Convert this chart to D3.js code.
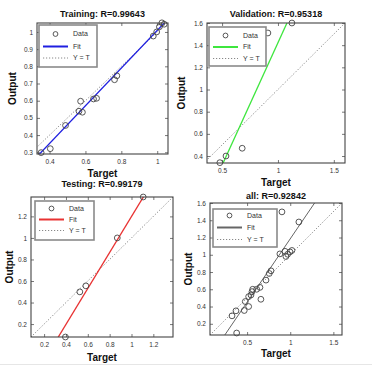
<!DOCTYPE html>
<html><head><meta charset="utf-8">
<script src="https://cdn.jsdelivr.net/npm/d3@7"></script>
<style>body{margin:0;background:#fff}svg{display:block;font-family:"Liberation Sans",Arial,sans-serif}</style>
</head><body><svg id="c" width="372" height="368"></svg>
<script>
// ---- data ----
const panelTitles = ["Training: R=0.99643", "Validation: R=0.95318", "Testing: R=0.99179", "all: R=0.92842"];
const legendLabels = ["Data", "Fit", "Y = T"];
const xLabel = "Target";
const yLabel = "Output";

const trainTarget = [0.353, 0.404, 0.489, 0.573, 0.564, 0.583, 0.645, 0.662, 0.762, 0.775, 0.978, 0.997, 1.012, 1.026, 1.039];
const trainOutput = [0.298, 0.321, 0.456, 0.597, 0.539, 0.533, 0.610, 0.614, 0.722, 0.745, 0.976, 1.000, 1.030, 1.053, 1.045];

const valTarget = [0.48, 0.535, 0.68, 0.91, 1.125];
const valOutput = [0.34, 0.40, 0.47, 1.51, 1.60];

const testTarget = [0.395, 0.527, 0.582, 0.87, 1.107];
const testOutput = [0.08, 0.499, 0.555, 1.00, 1.38];

const allTarget = [0.904, 1.10, 0.88, 0.94, 0.97, 0.997, 1.02, 0.95, 0.757, 0.777, 0.719, 0.649, 0.611, 0.557, 0.565, 0.545, 0.518, 0.66, 0.479, 0.518, 0.467, 0.371, 0.325, 0.379];
const allOutput = [1.497, 1.38, 1.01, 1.04, 1.006, 1.033, 1.05, 0.98, 0.783, 0.814, 0.706, 0.622, 0.60, 0.573, 0.60, 0.534, 0.515, 0.484, 0.458, 0.40, 0.354, 0.35, 0.292, 0.093];

// fit lines: output = slope * target + intercept
const fitSlope = [1.096, 2.21, 1.67, 1.47];
const fitIntercept = [-0.087, -0.788, -0.471, -0.285];

const xDomains = [[0.33, 1.06], [0.365, 1.60], [0.08, 1.38], [0.07, 1.60]];
const yDomains = [[0.29, 1.052], [0.337, 1.60], [0.08, 1.38], [0.07, 1.60]];
const xTickVals = [[0.4, 0.6, 0.8, 1], [0.5, 1, 1.5], [0.2, 0.4, 0.6, 0.8, 1, 1.2], [0.5, 1, 1.5]];
const yTickVals = [[0.3, 0.4, 0.5, 0.6, 0.7, 0.8, 0.9, 1], [0.4, 0.6, 0.8, 1, 1.2, 1.4, 1.6], [0.2, 0.4, 0.6, 0.8, 1, 1.2], [0.2, 0.4, 0.6, 0.8, 1, 1.2, 1.4, 1.6]];

// ---- layout / style ----
const boxes = [
  {l: 37, t: 23, r: 168, b: 154},
  {l: 207, t: 23, r: 345, b: 163},
  {l: 31, t: 197, r: 173, b: 337},
  {l: 210, t: 203, r: 342, b: 335}
];
const titleY = [16.5, 16.5, 186.5, 198.5];
const xLabelY = [176.5, 185.5, 360.5, 356.5];
const yLabelX = [12, 181, 9, 188];
const legendBoxes = [
  {l: 39, t: 25, r: 97, b: 67, rows: [34, 46.5, 58]},
  {l: 209, t: 27, r: 266, b: 66, rows: [35.5, 47, 58.5]},
  {l: 35, t: 201, r: 94, b: 240, rows: [208.5, 219.5, 230.5]},
  {l: 213, t: 209, r: 277, b: 247, rows: [215.5, 227.5, 239.5]}
];
const fitColors = ["#1f1fe0", "#3ee63e", "#e83232", "#666"];

const targets = [trainTarget, valTarget, testTarget, allTarget];
const outputs = [trainOutput, valOutput, testOutput, allOutput];

const svg = d3.select("#c");
svg.append("rect").attr("x", 0).attr("y", 0).attr("width", 372).attr("height", 368).attr("fill", "#fff");
svg.append("line").attr("x1", 0).attr("x2", 372).attr("y1", 364.5).attr("y2", 364.5).attr("stroke", "#e6e6e6");

const fmt = v => String(v);

for (let i = 0; i < 4; i++) {
  const bx = boxes[i];
  const x = d3.scaleLinear().domain(xDomains[i]).range([bx.l, bx.r]);
  const y = d3.scaleLinear().domain(yDomains[i]).range([bx.b, bx.t]);
  const g = svg.append("g");
  const clipId = "clip" + i;
  g.append("clipPath").attr("id", clipId).append("rect")
    .attr("x", bx.l).attr("y", bx.t).attr("width", bx.r - bx.l).attr("height", bx.b - bx.t);

  // axes (ticks inward on all sides)
  const axB = g.append("g").attr("transform", `translate(0,${bx.b})`)
    .call(d3.axisBottom(x).tickValues(xTickVals[i]).tickFormat(fmt).tickSizeInner(-3).tickSizeOuter(0).tickPadding(5));
  const axT = g.append("g").attr("transform", `translate(0,${bx.t})`)
    .call(d3.axisTop(x).tickValues(xTickVals[i]).tickFormat("").tickSizeInner(-3).tickSizeOuter(0));
  const axL = g.append("g").attr("transform", `translate(${bx.l},0)`)
    .call(d3.axisLeft(y).tickValues(yTickVals[i]).tickFormat(fmt).tickSizeInner(-3).tickSizeOuter(0).tickPadding(4));
  const axR = g.append("g").attr("transform", `translate(${bx.r},0)`)
    .call(d3.axisRight(y).tickValues(yTickVals[i]).tickFormat("").tickSizeInner(-3).tickSizeOuter(0));
  [axB, axT, axL, axR].forEach(a => {
    a.select(".domain").remove();
    a.selectAll(".tick line").attr("stroke", "#555").attr("stroke-width", 0.8);
    a.selectAll("text").attr("font-size", 6.5).attr("fill", "#333").attr("font-family", '"Liberation Sans",Arial,sans-serif');
  });

  // Y = T line
  const d0 = Math.min(xDomains[i][0], yDomains[i][0]);
  const d1 = Math.max(xDomains[i][1], yDomains[i][1]);
  g.append("line").attr("clip-path", `url(#${clipId})`)
    .attr("x1", x(d0)).attr("y1", y(d0)).attr("x2", x(d1)).attr("y2", y(d1))
    .attr("stroke", "#888").attr("stroke-width", 1).attr("stroke-dasharray", "1.2,1.8");

  // fit line
  const fx0 = xDomains[i][0], fx1 = xDomains[i][1];
  g.append("line").attr("clip-path", `url(#${clipId})`)
    .attr("x1", x(fx0)).attr("y1", y(fitSlope[i] * fx0 + fitIntercept[i]))
    .attr("x2", x(fx1)).attr("y2", y(fitSlope[i] * fx1 + fitIntercept[i]))
    .attr("stroke", fitColors[i]).attr("stroke-width", i === 3 ? 1 : 1.3);

  // data circles
  g.selectAll("circle.pt").data(targets[i].map((t, k) => [t, outputs[i][k]])).enter()
    .append("circle").attr("class", "pt")
    .attr("cx", d => x(d[0])).attr("cy", d => y(d[1])).attr("r", 2.9)
    .attr("fill", "none").attr("stroke", "#444").attr("stroke-width", 0.9);

  // box
  g.append("rect").attr("x", bx.l).attr("y", bx.t).attr("width", bx.r - bx.l).attr("height", bx.b - bx.t)
    .attr("fill", "none").attr("stroke", "#444").attr("stroke-width", 1.1);

  // legend
  const lb = legendBoxes[i];
  g.append("rect").attr("x", lb.l).attr("y", lb.t).attr("width", lb.r - lb.l).attr("height", lb.b - lb.t)
    .attr("fill", "#fff").attr("stroke", "#8a8a8a").attr("stroke-width", 1.6);
  const sx0 = lb.l + 4, sx1 = lb.l + 29, tx = lb.l + 34;
  g.append("circle").attr("cx", (sx0 + sx1) / 2).attr("cy", lb.rows[0]).attr("r", 2.4)
    .attr("fill", "none").attr("stroke", "#444").attr("stroke-width", 0.9);
  g.append("line").attr("x1", sx0).attr("x2", sx1).attr("y1", lb.rows[1]).attr("y2", lb.rows[1])
    .attr("stroke", fitColors[i]).attr("stroke-width", 2);
  g.append("line").attr("x1", sx0).attr("x2", sx1).attr("y1", lb.rows[2]).attr("y2", lb.rows[2])
    .attr("stroke", "#888").attr("stroke-width", 1).attr("stroke-dasharray", "1.2,1.8");
  legendLabels.forEach((lab, k) => {
    g.append("text").attr("x", tx).attr("y", lb.rows[k] + 2.4).attr("font-size", 7).attr("fill", "#333").text(lab);
  });

  // titles and labels
  const cx = (bx.l + bx.r) / 2, cy = (bx.t + bx.b) / 2;
  g.append("text").attr("x", cx).attr("y", titleY[i]).attr("text-anchor", "middle")
    .attr("font-size", 9).attr("font-weight", "bold").attr("fill", "#111").text(panelTitles[i]);
  g.append("text").attr("x", cx).attr("y", xLabelY[i]).attr("text-anchor", "middle")
    .attr("font-size", 10).attr("font-weight", "bold").attr("fill", "#111").text(xLabel);
  g.append("text").attr("transform", `translate(${yLabelX[i]},${cy}) rotate(-90)`).attr("text-anchor", "middle")
    .attr("dominant-baseline", "central")
    .attr("font-size", 10).attr("font-weight", "bold").attr("fill", "#111").text(yLabel);
}
</script>
</body></html>
